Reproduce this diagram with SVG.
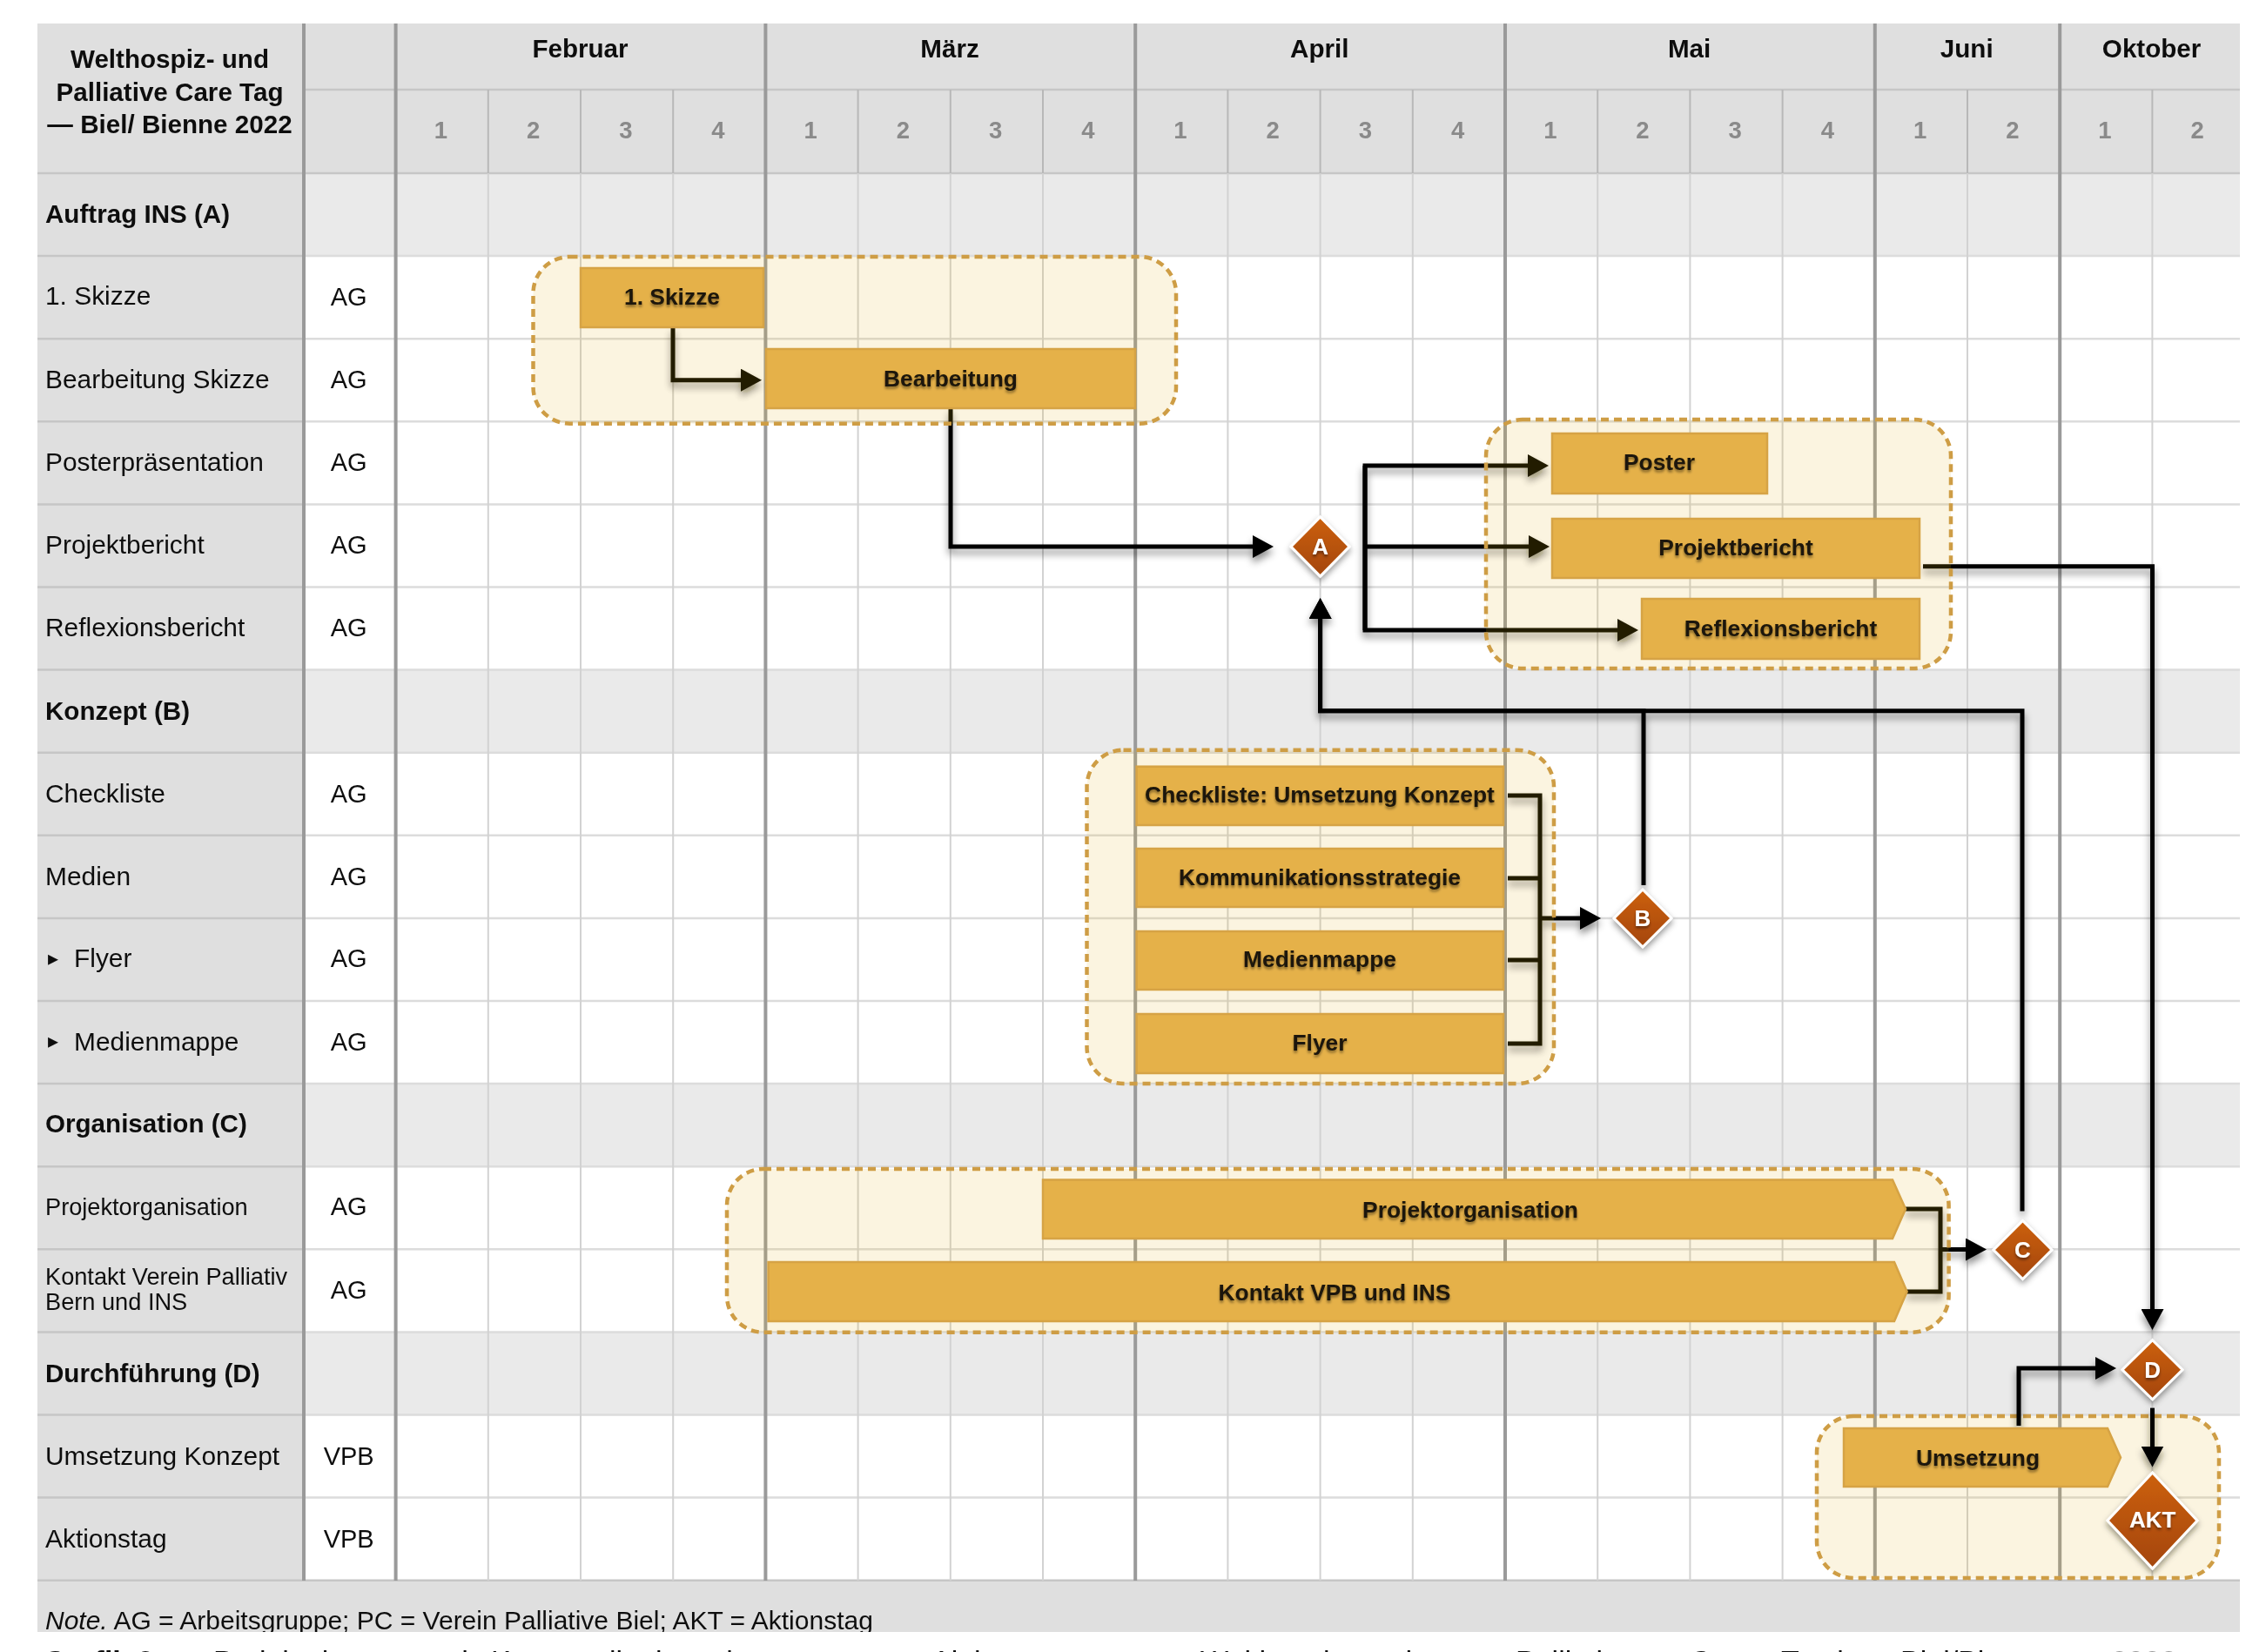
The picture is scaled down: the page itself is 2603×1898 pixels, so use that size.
<svg xmlns="http://www.w3.org/2000/svg" width="2603" height="1898" viewBox="0 0 2603 1898">
<style>
text{font-family:"Liberation Sans",Arial,sans-serif;fill:#111}
.lbl{font-size:29.9px}
.sm{font-size:27.2px}
.b{font-weight:bold}
.own{font-size:29px;text-anchor:middle}
.mon{font-size:29.6px;font-weight:bold;text-anchor:middle}
.wk{font-size:27.5px;font-weight:bold;text-anchor:middle;fill:#8a8a8a}
.bt{font-size:26.4px;font-weight:bold;text-anchor:middle;fill:#1c1608;filter:url(#ts)}
.dt{font-size:26px;font-weight:bold;text-anchor:middle;fill:#fff;filter:url(#ts)}
.bar{fill:#E5B149;stroke:#D6A344;stroke-width:2.5}
.grp{fill:#E5B62A;fill-opacity:.15;stroke:#CE9D45;stroke-width:4.5;stroke-dasharray:9 6}
.dia{fill:url(#dg);stroke:#fff;stroke-width:3;filter:url(#ds)}
.con{fill:none;stroke:#000;stroke-width:5}
.arr{marker-end:url(#ah)}
</style>
<defs>
<linearGradient id="dg" x1="0" y1="0" x2="0" y2="1"><stop offset="0" stop-color="#CC600A"/><stop offset="1" stop-color="#A44608"/></linearGradient>
<marker id="ah" markerUnits="userSpaceOnUse" markerWidth="26" markerHeight="26" refX="14" refY="13" orient="auto"><path d="M0,0 L24,13 L0,26 Z" fill="#000"/></marker>
<filter id="soft" filterUnits="userSpaceOnUse" x="0" y="0" width="2603" height="1898"><feGaussianBlur stdDeviation="0.7"/></filter>
<filter id="ts" x="-10%" y="-30%" width="120%" height="170%"><feDropShadow dx="0" dy="2.5" stdDeviation="1.6" flood-color="#000" flood-opacity=".45"/></filter>
<filter id="ds" x="-30%" y="-30%" width="160%" height="160%"><feDropShadow dx="0" dy="4" stdDeviation="3.5" flood-color="#000" flood-opacity=".4"/></filter>
<filter id="cs" filterUnits="userSpaceOnUse" x="0" y="0" width="2603" height="1898"><feDropShadow dx="0" dy="6" stdDeviation="4" flood-color="#000" flood-opacity=".45"/></filter>
<clipPath id="noteclip"><rect x="43" y="1816" width="2530" height="59"/></clipPath>
</defs>
<rect width="2603" height="1898" fill="#fff"/>
<g filter="url(#soft)">
<g id="table">
<rect x="43" y="27" width="2530" height="172" fill="#DFDFDF"/>
<rect x="43" y="199" width="306" height="1617" fill="#DFDFDF"/>
<rect x="43" y="1816" width="2530" height="59" fill="#DFDFDF"/>
<g fill="#EAEAEA">
<rect x="349" y="199" width="2224" height="95.1"/>
<rect x="349" y="769.6" width="2224" height="95.1"/>
<rect x="349" y="1245.1" width="2224" height="95.1"/>
<rect x="349" y="1530.4" width="2224" height="95.1"/>
</g>
<path d="M349,103H2573M43,199H2573" stroke="#C6C6C6" stroke-width="2.5" fill="none"/>
<path d="M349,294.1H2573M349,389.2H2573M349,484.3H2573M349,579.4H2573M349,674.5H2573M349,769.6H2573M349,864.7H2573M349,959.8H2573M349,1054.9H2573M349,1150H2573M349,1245.1H2573M349,1340.2H2573M349,1435.3H2573M349,1530.4H2573M349,1625.5H2573M349,1720.6H2573" stroke="#DCDCDC" stroke-width="2.5" fill="none"/>
<path d="M43,294.1H349M43,389.2H349M43,484.3H349M43,579.4H349M43,674.5H349M43,769.6H349M43,864.7H349M43,959.8H349M43,1054.9H349M43,1150H349M43,1245.1H349M43,1340.2H349M43,1435.3H349M43,1530.4H349M43,1625.5H349M43,1720.6H349M43,1815.7H2573" stroke="#C6C6C6" stroke-width="2.5" fill="none"/>
<path d="M560.8,199V1816M667,199V1816M773.2,199V1816M985.6,199V1816M1091.8,199V1816M1198,199V1816M1410.4,199V1816M1516.6,199V1816M1622.8,199V1816M1835.2,199V1816M1941.4,199V1816M2047.6,199V1816M2260,199V1816M2472.4,199V1816" stroke="#D2D2D2" stroke-width="2" fill="none"/>
<path d="M560.8,103V199M667,103V199M773.2,103V199M985.6,103V199M1091.8,103V199M1198,103V199M1410.4,103V199M1516.6,103V199M1622.8,103V199M1835.2,103V199M1941.4,103V199M2047.6,103V199M2260,103V199M2472.4,103V199" stroke="#B8B8B8" stroke-width="2" fill="none"/>
<path d="M349,27V1816M454.6,27V1816M879.4,27V1816M1304.2,27V1816M1729,27V1816M2153.8,27V1816M2366.2,27V1816" stroke="#9A9A9A" stroke-width="4" fill="none"/>
<g class="b" font-size="29.6" text-anchor="middle">
<text x="195" y="78">Welthospiz- und</text>
<text x="195" y="116">Palliative Care Tag</text>
<text x="195" y="153">— Biel/ Bienne 2022</text>
</g>
<text class="mon" x="666.5" y="66">Februar</text>
<text class="mon" x="1091" y="66">März</text>
<text class="mon" x="1515.8" y="66">April</text>
<text class="mon" x="1940.6" y="66">Mai</text>
<text class="mon" x="2259.2" y="66">Juni</text>
<text class="mon" x="2471.6" y="66">Oktober</text>
<text class="wk" x="506.4" y="159">1</text><text class="wk" x="612.6" y="159">2</text><text class="wk" x="718.8" y="159">3</text><text class="wk" x="825" y="159">4</text>
<text class="wk" x="931.2" y="159">1</text><text class="wk" x="1037.4" y="159">2</text><text class="wk" x="1143.6" y="159">3</text><text class="wk" x="1249.8" y="159">4</text>
<text class="wk" x="1356" y="159">1</text><text class="wk" x="1462.2" y="159">2</text><text class="wk" x="1568.4" y="159">3</text><text class="wk" x="1674.6" y="159">4</text>
<text class="wk" x="1780.8" y="159">1</text><text class="wk" x="1887" y="159">2</text><text class="wk" x="1993.2" y="159">3</text><text class="wk" x="2099.4" y="159">4</text>
<text class="wk" x="2205.6" y="159">1</text><text class="wk" x="2311.8" y="159">2</text>
<text class="wk" x="2418" y="159">1</text><text class="wk" x="2524.2" y="159">2</text>
<text class="lbl b" x="52" y="256" style="font-size:29.6px">Auftrag INS (A)</text>
<text class="lbl" x="52" y="350">1. Skizze</text><text class="own" x="400.7" y="350.5">AG</text>
<text class="lbl" x="52" y="446">Bearbeitung Skizze</text><text class="own" x="400.7" y="446">AG</text>
<text class="lbl" x="52" y="541">Posterpräsentation</text><text class="own" x="400.7" y="541">AG</text>
<text class="lbl" x="52" y="636">Projektbericht</text><text class="own" x="400.7" y="636">AG</text>
<text class="lbl" x="52" y="731">Reflexionsbericht</text><text class="own" x="400.7" y="731">AG</text>
<text class="lbl b" x="52" y="826.5" style="font-size:29.6px">Konzept (B)</text>
<text class="lbl" x="52" y="921.5">Checkliste</text><text class="own" x="400.7" y="921.5">AG</text>
<text class="lbl" x="52" y="1016.5">Medien</text><text class="own" x="400.7" y="1016.5">AG</text>
<text x="55" y="1109" font-size="24" style="font-family:'DejaVu Sans',sans-serif">▸</text><text class="lbl" x="85" y="1111">Flyer</text><text class="own" x="400.7" y="1110.5">AG</text>
<text x="55" y="1204" font-size="24" style="font-family:'DejaVu Sans',sans-serif">▸</text><text class="lbl" x="85" y="1206.5">Medienmappe</text><text class="own" x="400.7" y="1206.5">AG</text>
<text class="lbl b" x="52" y="1301" style="font-size:29.6px">Organisation (C)</text>
<text class="sm" x="52" y="1395.5">Projektorganisation</text><text class="own" x="400.7" y="1396">AG</text>
<text class="sm" x="52" y="1475.5">Kontakt Verein Palliativ</text><text class="sm" x="52" y="1504.5">Bern und INS</text><text class="own" x="400.7" y="1491.5">AG</text>
<text class="lbl b" x="52" y="1587.5" style="font-size:29.6px">Durchführung (D)</text>
<text class="lbl" x="52" y="1682.5">Umsetzung Konzept</text><text class="own" x="400.7" y="1682.5">VPB</text>
<text class="lbl" x="52" y="1777.5">Aktionstag</text><text class="own" x="400.7" y="1777.5">VPB</text>
<g clip-path="url(#noteclip)"><text x="52" y="1872" style="font-size:30px"><tspan font-style="italic">Note.</tspan> AG = Arbeitsgruppe; PC = Verein Palliative Biel; AKT = Aktionstag</text></g>
<g font-size="34">
<text x="50" y="1920" font-weight="bold" font-size="34">Grafik 3:</text>
<text x="245" y="1920" font-size="34">Projektplanung und</text>
<text x="564" y="1920" font-size="34">Kommunikationsplanung</text>
<text x="1070" y="1920" font-size="34">Aktionstag</text>
<text x="1379" y="1920" font-size="34">Welthospiz- und</text>
<text x="1741" y="1920" font-size="34">Palliative</text>
<text x="1941" y="1920" font-size="34">Care</text>
<text x="2046" y="1920" font-size="34">Tag in</text>
<text x="2183" y="1920" font-size="34">Biel/Bienne</text>
<text x="2425" y="1920" font-size="34" style="fill:#999">2022</text>
</g>
</g>
<g id="group-aktion"><rect class="grp" x="2087" y="1627" width="462" height="186" rx="42"/></g>
<g id="connectors" class="con" filter="url(#cs)">
<path class="arr" d="M773,376V436.7H865"/>
<path class="arr" d="M1092,469V628H1453"/>
<path class="arr" d="M1568,724V535H1769"/>
<path class="arr" d="M1568,628H1770"/>
<path class="arr" d="M1568,535V724H1872"/>
<path class="arr" d="M1888,1017V816.7H1516.6V697"/>
<path class="arr" d="M2323,1391.6V816.7H1516.6V697"/>
<path d="M1732,914H1769V1199H1732M1732,1009H1769M1732,1103H1769"/>
<path class="arr" d="M1769,1055H1829"/>
<path d="M2189,1389H2229V1484H2190"/>
<path class="arr" d="M2229,1435.5H2272"/>
<path class="arr" d="M2209,650.7H2472.5V1518"/>
<path class="arr" d="M2319,1638V1572H2421"/>
<path class="arr" d="M2472.5,1617.6V1675.5"/>
</g>
<g id="group-skizze"><rect class="grp" x="612.5" y="295" width="738.5" height="191.7" rx="42"/></g>
<g id="group-berichte"><rect class="grp" x="1707" y="482" width="534" height="286" rx="42"/></g>
<g id="group-konzept"><rect class="grp" x="1248.5" y="861.7" width="536.5" height="383.3" rx="42"/></g>
<g id="group-organisation"><rect class="grp" x="835" y="1343" width="1403.6" height="187.7" rx="42"/></g>
<g id="bar-skizze"><rect class="bar" x="667" y="308" width="210" height="68"/><text class="bt" x="772" y="350">1. Skizze</text></g>
<g id="bar-bearbeitung"><rect class="bar" x="880" y="401" width="424" height="68"/><text class="bt" x="1092" y="444">Bearbeitung</text></g>
<g id="bar-poster"><rect class="bar" x="1783" y="498" width="247" height="69"/><text class="bt" x="1906" y="540">Poster</text></g>
<g id="bar-projektbericht"><rect class="bar" x="1783" y="596" width="422" height="68"/><text class="bt" x="1994" y="637.5">Projektbericht</text></g>
<g id="bar-reflexion"><rect class="bar" x="1886" y="688" width="319" height="69"/><text class="bt" x="2045.5" y="730.5">Reflexionsbericht</text></g>
<g id="bar-checkliste"><rect class="bar" x="1305.6" y="880.7" width="421.4" height="67.3"/><text class="bt" x="1516" y="921.5">Checkliste: Umsetzung Konzept</text></g>
<g id="bar-komm"><rect class="bar" x="1305.6" y="975" width="421.4" height="67"/><text class="bt" x="1516" y="1016.5">Kommunikationsstrategie</text></g>
<g id="bar-medienmappe"><rect class="bar" x="1305.6" y="1070" width="421.4" height="67"/><text class="bt" x="1516" y="1111">Medienmappe</text></g>
<g id="bar-flyer"><rect class="bar" x="1305.6" y="1165" width="421.4" height="68"/><text class="bt" x="1516" y="1206.5">Flyer</text></g>
<g id="bar-projektorganisation"><path class="bar" d="M1198,1355.5H2174L2189,1389L2174,1423H1198Z"/><text class="bt" x="1689" y="1398.5">Projektorganisation</text></g>
<g id="bar-kontakt"><path class="bar" d="M882.6,1450H2176L2190.6,1484L2176,1518H882.6Z"/><text class="bt" x="1533" y="1493.5">Kontakt VPB und INS</text></g>
<g id="bar-umsetzung"><path class="bar" d="M2118,1641H2421L2436,1674.5L2421,1708H2118Z"/><text class="bt" x="2272" y="1683.5">Umsetzung</text></g>
<g id="milestone-a"><polygon class="dia" points="1516.6,594 1550,628 1516.6,662 1483,628"/><text class="dt" x="1516.6" y="637">A</text></g>
<g id="milestone-b"><polygon class="dia" points="1887,1022 1920,1055 1887,1088 1854,1055"/><text class="dt" x="1887" y="1064">B</text></g>
<g id="milestone-c"><polygon class="dia" points="2323.5,1402.5 2357,1436 2323.5,1469.5 2290,1436"/><text class="dt" x="2323.5" y="1445">C</text></g>
<g id="milestone-d"><polygon class="dia" points="2472.6,1539.7 2507,1573.7 2472.6,1607.7 2438,1573.7"/><text class="dt" x="2472.6" y="1582.5">D</text></g>
<g id="milestone-akt"><polygon class="dia" points="2472.6,1692 2524,1747 2472.6,1802 2421,1747"/><text class="dt" x="2472.6" y="1754.5">AKT</text></g>
</g>
</svg>
